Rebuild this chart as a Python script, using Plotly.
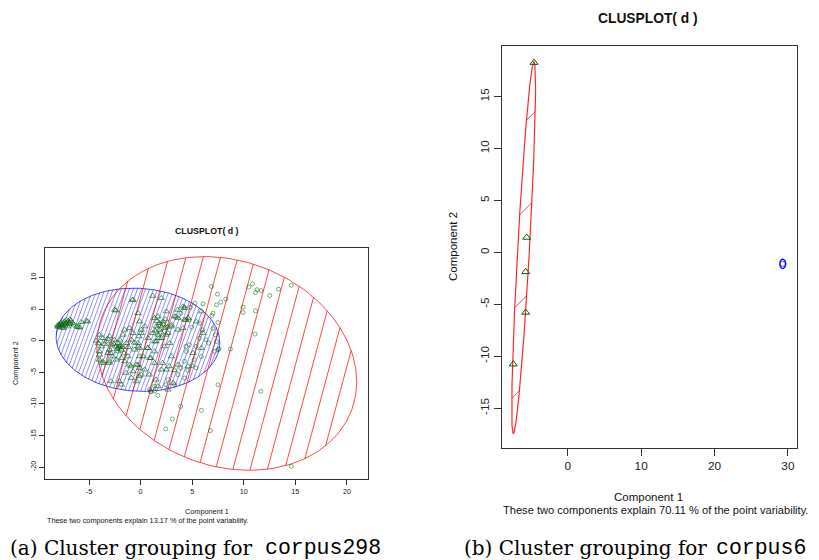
import numpy as np
import plotly.graph_objects as go

W, H = 819, 560

# ---------------- data: panel (a) corpus298 ----------------
a_title = "CLUSPLOT( d )"
a_xlabel = "Component 1"
a_ylabel = "Component 2"
a_sub = "These two components explain 13.17 % of the point variability."
a_xticks = [-5, 0, 5, 10, 15, 20]
a_yticks = [-20, -15, -10, -5, 0, 5, 10]

# cluster 1 (triangles)
a_c1_x = [-8.06, -7.8, -7.58, -7.26, -7.03, -6.77, -6.6, -7.4, -7.67, -7.1, -6.93, -7.9, -6.44, -6.18,
          -5.28, -5.77, -7.5, -7.95, -7.7, -7.35, -7.2, -6.85, -7.6, -8.0, -6.9, -7.45, -5.9, -5.15, -6.02,
          -4.3, -3.98, -3.82, -3.66, -3.33, -3.01, -2.85, -2.52, -2.36, -2.2, -2.04, -1.88, -1.71, -1.55,
          -1.39, -1.07, -0.9, -0.74, -0.58, -0.25, -0.15, 0.06, -3.98, -3.66, -3.17, -3.01, -2.69, -2.36,
          -1.88, -1.55, -1.23, -1.07, -0.74, -0.41, -0.09, -0.9, -0.41, 0.06, -1.88, -2.52, -0.74, -0.25,
          -2.04, -2.2, -3.01, -0.09, -2.1, -1.95, -2.3, -1.8, -2.6, -3.5, -4.1, -3.2, -1.6, -2.9, -1.2, -0.6,
          2.0, 2.49, 1.36, 1.68, 1.84, 2.17, 1.52, 1.84, 2.33, 1.68, 2.01, 2.65, 3.3, 3.62, 4.11, 4.27, 4.6,
          3.62, 2.82, 2.33, 1.36, 0.71, 0.06, -0.1, 0.39, -0.26, -0.1, 0.71, 1.36, 0.23, 0.88, -0.26, 0.39,
          1.36, 2.01, 2.98, 3.62, 3.14, 2.65, 1.68, 2.49, 4.6, 5.08, 5.89, 6.05, 5.4, 5.89, 4.11, 2.98, 1.2,
          1.9, 2.2, 1.6, 2.4, 2.0, 1.4, 2.6, 3.59, 4.24, 3.43, 4.4, 2.95, 2.46, 1.81, 1.49, 0.68, 1.0, 2.14,
          2.78, 3.27, 0.84, 1.49, -0.13, -0.94, -1.42, -2.07, -2.88, 1.17, -0.78, -2.39, -4.01, -4.01,
          -3.69, -3.04]
a_c1_y = [2.42, 2.64, 2.37, 2.8, 3.06, 3.16, 2.8, 3.06, 2.11, 2.27, 2.64, 2.27, 2.53, 2.27,
          3.16, 2.95, 2.0, 2.55, 2.9, 2.5, 3.3, 3.4, 2.6, 2.2, 2.9, 2.75, 2.1, 3.05, 2.16,
          0.0, 0.95, -0.9, 0.42, -0.11, 0.69, -0.63, 0.16, -0.9, -0.37, 0.16, -1.42, 0.95, 1.74,
          -0.37, 2.0, 0.16, 1.21, -1.42, -0.9, 0.69, 1.74, -2.21, -3.27, -1.95, -3.27, -2.48, -3.0,
          -2.74, -3.27, -2.48, -3.8, -4.85, -3.8, -2.48, -5.9, -6.43, -5.38, -6.96, 4.9, 6.48, 4.38,
          -0.9, -1.69, -1.42, -4.32, -1.1, -0.7, -1.3, -1.0, -0.5, -0.5, -0.4, 0.3, -2.0, -2.0, -1.0, -0.3,
          6.75, 4.64, 3.59, 3.85, 2.8, 3.06, 2.27, 1.74, 2.0, 0.95, 0.42, 1.21, 3.85, 3.59, 5.43, 3.32, 3.59,
          1.74, -0.37, -0.9, -0.11, 0.42, 1.21, 3.06, 2.27, -0.37, -1.16, -1.16, -1.69, -2.48, -2.74, -3.8, -4.58,
          -3.53, -4.58, -2.48, -3.8, -6.7, -7.75, -7.22, -4.58, -4.06, -1.95, -1.16, 1.21, 3.06, 4.64, 2.0, 2.53, 1.21,
          2.4, 2.6, 3.1, 3.4, 1.3, 1.6, 2.2, 4.89, 5.16, 3.84, 3.32, 2.26, 0.95, 0.42, -0.1, -1.16, -2.74, -3.53,
          -4.05, -4.68, -5.37, -6.16, -5.63, -4.05, -5.1, -6.42, -6.42, 7.1, 6.47, 4.79, -3.0, -1.68,
          -3.53, -3.53]

# cluster 2 (circles)
a_c2_x = [6.86, 7.45, 7.77, 8.25, 6.05, 5.27, 10.49, 10.84, 11.13, 11.3, 11.68, 12.52, 13.37, 14.6,
          9.93, 9.93, 11.13, 11.1, 8.7, 7.5, 11.65, 5.89, 3.88, 3.07, 2.43, 6.76, 14.6, 6.92, 7.5, 6.6,
          7.6, 1.68, 0.97, 7.35, 7.02, 7.35, 7.51, 7.18, 5.89, 4.44, 4.27, 3.62, 2.65, 3.3, 1.36, 0.88,
          3.9, 4.56, 5.0, 5.37, 4.24, 5.2, 4.4, 4.72, 5.37, 5.7, 6.34, 5.7, 4.95, 4.72, 3.9, 4.24, 4.82,
          6.0, 7.0, 7.25, 1.36, 2.46, 1.0]
a_c2_y = [8.6, 7.39, 6.12, 6.6, 5.85, 5.96, 8.5, 9.02, 7.65, 8.1, 7.96, 7.17, 8.18, 8.8,
          5.33, 4.48, 4.75, 1.06, -1.3, -6.96, -8.02, -11.03, -10.39, -12.4, -13.97, -14.24, -19.9, 4.0, 2.9, -0.37,
          -1.27, -8.65, -8.02, 5.69, 4.38, -0.11, -1.42, -1.69, -2.48, -1.69, -5.9, -5.38, -6.17, -6.96, -7.96, -7.7,
          -4.3, -4.68, -3.95, -4.3, -3.26, -3.0, -0.9, -0.63, -0.89, 0.42, 0.16, 2.79, 2.16, 3.3, 4.37, 5.3, 5.3,
          1.74, 1.95, 0.95, -7.2, -6.95, -8.1]

# cluster ellipses (center, covariance) in data units
a_blue_center = [-0.26, 0.16]
a_blue_cov = [[62.9, -3.7], [-3.7, 66.9]]
a_red_center = [8.35, -3.59]
a_red_cov = [[158.6, -36.56], [-36.56, 286.6]]

# ---------------- data: panel (b) corpus6 ----------------
b_title = "CLUSPLOT( d )"
b_xlabel = "Component 1"
b_ylabel = "Component 2"
b_sub = "These two components explain 70.11 % of the point variability."
b_xticks = [0, 10, 20, 30]
b_yticks = [-15, -10, -5, 0, 5, 10, 15]

b_c1_x = [-4.6, -5.59, -5.73, -5.73, -7.42]
b_c1_y = [18.27, 1.44, -1.87, -5.78, -10.76]
b_c2_x = [29.3]
b_c2_y = [-1.1]

b_red_center = [-6.01, 0.46]
b_red_cov = [[2.64, 25.25], [25.25, 320.4]]
b_blue_center = [29.3, -1.1]
b_blue_cov = [[0.17, 0.0], [0.0, 0.2]]

captions = [("(a) Cluster grouping for", "corpus298"), ("(b) Cluster grouping for", "corpus6")]

# ---------------- layout geometry (pixels) ----------------
A_BOX = dict(x0=45, x1=368, y0=248, y1=479, xr=(-9.27, 22.04), yr=(-21.9, 14.7))
B_BOX = dict(x0=501.7, x1=796.7, y0=45.7, y1=447.7, xr=(-9.0, 31.2), yr=(-18.8, 19.9))


def to_px(box, x, y):
    kx = (box["x1"] - box["x0"]) / (box["xr"][1] - box["xr"][0])
    ky = (box["y1"] - box["y0"]) / (box["yr"][1] - box["yr"][0])
    return box["x0"] + (x - box["xr"][0]) * kx, box["y1"] - (y - box["yr"][0]) * ky


def to_data(box, px, py):
    kx = (box["x1"] - box["x0"]) / (box["xr"][1] - box["xr"][0])
    ky = (box["y1"] - box["y0"]) / (box["yr"][1] - box["yr"][0])
    return box["xr"][0] + (px - box["x0"]) / kx, box["yr"][0] + (box["y1"] - py) / ky


def ellipse_pts(center, cov, n=241):
    L = np.linalg.cholesky(np.array(cov, float))
    t = np.linspace(0, 2 * np.pi, n)
    p = np.array(center)[:, None] + L @ np.vstack([np.cos(t), np.sin(t)])
    return p[0], p[1]


def hatch(box, center, cov, angle_deg, spacing, phase):
    kx = (box["x1"] - box["x0"]) / (box["xr"][1] - box["xr"][0])
    ky = (box["y1"] - box["y0"]) / (box["yr"][1] - box["yr"][0])
    D = np.diag([kx, -ky])
    S = D @ np.array(cov, float) @ D
    Si = np.linalg.inv(S)
    pc = np.array(to_px(box, center[0], center[1]))
    a = np.radians(angle_deg)
    d = np.array([np.cos(a), -np.sin(a)])
    nrm = np.array([np.sin(a), np.cos(a)])
    half = np.sqrt(nrm @ S @ nrm)
    c0 = nrm @ pc
    jmin = int(np.ceil((c0 - half - phase) / spacing))
    jmax = int(np.floor((c0 + half - phase) / spacing))
    xs, ys = [], []
    for j in range(jmin, jmax + 1):
        k = phase + j * spacing
        q = nrm * k - pc
        A = d @ Si @ d
        B = 2 * d @ Si @ q
        C = q @ Si @ q - 1
        disc = B * B - 4 * A * C
        if disc <= 0:
            continue
        for tau in ((-B - np.sqrt(disc)) / (2 * A), (-B + np.sqrt(disc)) / (2 * A)):
            P = nrm * k + tau * d
            x, y = to_data(box, P[0], P[1])
            xs.append(x)
            ys.append(y)
        xs.append(None)
        ys.append(None)
    return xs, ys


def px2paper(px, py):
    return px / W, 1 - py / H


fig = go.Figure()

RED = "rgba(255,0,0,0.72)"
BLUE = "rgba(0,0,255,0.72)"
GREEN = "rgba(0,100,0,0.78)"

# ---- panel (a) ----
hx, hy = hatch(A_BOX, a_blue_center, a_blue_cov, 70, 3.8, 0.0)
fig.add_trace(go.Scatter(x=hx, y=hy, mode="lines", line=dict(color="rgba(0,0,255,0.55)", width=0.8),
                         xaxis="x", yaxis="y", hoverinfo="skip"))
ex, ey = ellipse_pts(a_blue_center, a_blue_cov)
fig.add_trace(go.Scatter(x=ex, y=ey, mode="lines", line=dict(color=BLUE, width=1),
                         xaxis="x", yaxis="y", hoverinfo="skip"))
hx, hy = hatch(A_BOX, a_red_center, a_red_cov, 75, 16.7, 346.4)
fig.add_trace(go.Scatter(x=hx, y=hy, mode="lines", line=dict(color=RED, width=1),
                         xaxis="x", yaxis="y", hoverinfo="skip"))
ex, ey = ellipse_pts(a_red_center, a_red_cov)
fig.add_trace(go.Scatter(x=ex, y=ey, mode="lines", line=dict(color=RED, width=1),
                         xaxis="x", yaxis="y", hoverinfo="skip"))
fig.add_trace(go.Scatter(x=a_c1_x, y=a_c1_y, mode="markers", xaxis="x", yaxis="y",
                         marker=dict(symbol="triangle-up-open", size=5.5, color=GREEN, line=dict(width=0.8))))
fig.add_trace(go.Scatter(x=a_c2_x, y=a_c2_y, mode="markers", xaxis="x", yaxis="y",
                         marker=dict(symbol="circle-open", size=4, color="rgba(0,100,0,0.65)", line=dict(width=0.8))))

# ---- panel (b) ----
hx, hy = hatch(B_BOX, b_red_center, b_red_cov, 45, 62.1, 457.3)
fig.add_trace(go.Scatter(x=hx, y=hy, mode="lines", line=dict(color=RED, width=1),
                         xaxis="x2", yaxis="y2", hoverinfo="skip"))
ex, ey = ellipse_pts(b_red_center, b_red_cov)
fig.add_trace(go.Scatter(x=ex, y=ey, mode="lines", line=dict(color="rgba(255,0,0,0.85)", width=1.2),
                         xaxis="x2", yaxis="y2", hoverinfo="skip"))
ex, ey = ellipse_pts(b_blue_center, b_blue_cov)
fig.add_trace(go.Scatter(x=ex, y=ey, mode="lines", line=dict(color="rgb(0,0,255)", width=1.3),
                         xaxis="x2", yaxis="y2", hoverinfo="skip"))
fig.add_trace(go.Scatter(x=b_c1_x, y=b_c1_y, mode="markers", xaxis="x2", yaxis="y2",
                         marker=dict(symbol="triangle-up-open", size=7, color="rgb(0,100,0)", line=dict(width=1))))
fig.add_trace(go.Scatter(x=b_c2_x, y=b_c2_y, mode="markers", xaxis="x2", yaxis="y2",
                         marker=dict(symbol="circle-open", size=5, color="rgba(0,0,255,0.6)", line=dict(width=1))))


def axis_common(ticks, rng, dom, fs, tlen, anchor, rotate=False):
    d = dict(range=list(rng), domain=dom, tickmode="array", tickvals=ticks,
             ticktext=[str(t) for t in ticks], showgrid=False, zeroline=False,
             showline=True, mirror=True, linecolor="#333", linewidth=1,
             ticks="outside", ticklen=tlen, tickwidth=1, tickcolor="#333",
             tickfont=dict(family="Liberation Sans, Arial, sans-serif", size=fs, color="#222"),
             anchor=anchor, fixedrange=True)
    if rotate:
        d["tickangle"] = -90
    return d


fig.update_layout(
    width=W, height=H, margin=dict(l=0, r=0, t=0, b=0),
    paper_bgcolor="white", plot_bgcolor="white", showlegend=False,
    xaxis=axis_common(a_xticks, A_BOX["xr"], [A_BOX["x0"] / W, A_BOX["x1"] / W], 7.3, 5, "y"),
    yaxis=axis_common(a_yticks, A_BOX["yr"], [1 - A_BOX["y1"] / H, 1 - A_BOX["y0"] / H], 7.3, 5, "x", True),
    xaxis2=axis_common(b_xticks, B_BOX["xr"], [B_BOX["x0"] / W, B_BOX["x1"] / W], 11.8, 7, "y2"),
    yaxis2=axis_common(b_yticks, B_BOX["yr"], [1 - B_BOX["y1"] / H, 1 - B_BOX["y0"] / H], 11.8, 7, "x2", True),
)

ANN_FONT = "Liberation Sans, Arial, sans-serif"


def ann(text, px, py, size, xanchor="center", yanchor="middle", angle=0, family=ANN_FONT, color="#111"):
    x, y = px2paper(px, py)
    fig.add_annotation(text=text, x=x, y=y, xref="paper", yref="paper", showarrow=False,
                       xanchor=xanchor, yanchor=yanchor, textangle=angle,
                       font=dict(family=family, size=size, color=color))


# panel (a) texts
ann("<b>" + a_title + "</b>", 206.5, 231, 8.8)
ann(a_xlabel, 206.5, 511, 7.3)
ann(a_sub, 45, 520, 7.3, xanchor="left")
ann(a_ylabel, 15, 363, 7.3, angle=-90)

# panel (b) texts
ann("<b>" + b_title + "</b>", 648, 18, 13.8)
ann(b_xlabel, 648, 497, 11.5)
ann(b_sub, 501, 510, 11.1, xanchor="left")
ann(b_ylabel, 453, 247, 11.5, angle=-90)

# captions
SERIF = "DejaVu Serif, serif"
MONO = "Liberation Mono, monospace"
ann(captions[0][0], 8, 548, 20, xanchor="left", family=SERIF, color="#000")
ann(captions[0][1], 263, 548, 21.5, xanchor="left", family=MONO, color="#000")
ann(captions[1][0], 462, 548, 20, xanchor="left", family=SERIF, color="#000")
ann(captions[1][1], 714, 548, 21.5, xanchor="left", family=MONO, color="#000")

fig.write_html("out.html")
